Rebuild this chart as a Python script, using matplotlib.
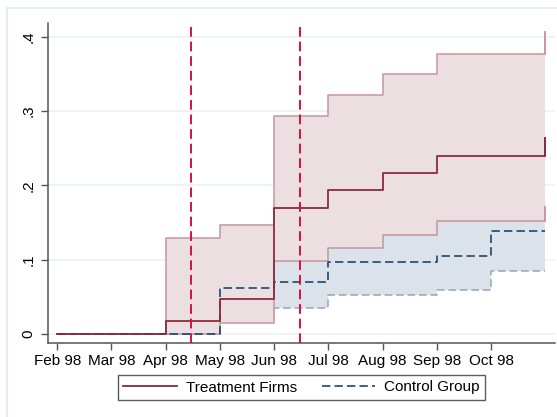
import numpy as np
import matplotlib
matplotlib.use("Agg")
import matplotlib.pyplot as plt
from matplotlib.patches import Rectangle
from matplotlib.lines import Line2D

plt.rcParams["font.family"] = ["Liberation Sans", "DejaVu Sans"]

# month index 0 = Feb 98 ... 9 = Nov 98 (step values hold until next month)
months = np.arange(10)
month_labels = ["Feb 98", "Mar 98", "Apr 98", "May 98", "Jun 98",
                "Jul 98", "Aug 98", "Sep 98", "Oct 98"]

treat = [0, 0, 0.0175, 0.047, 0.170, 0.194, 0.217, 0.240, 0.240, 0.264]
treat_hi = [0, 0, 0.129, 0.147, 0.294, 0.322, 0.350, 0.377, 0.377, 0.406]
treat_lo = [0, 0, 0, 0.015, 0.098, 0.116, 0.134, 0.152, 0.152, 0.171]

ctrl = [0, 0, 0, 0.062, 0.070, 0.097, 0.097, 0.105, 0.139, 0.139]
ctrl_hi = [0, 0, 0, 0.11, 0.12, 0.13, 0.15, 0.16, 0.17, 0.17]
ctrl_lo = [0, 0, 0, 0.02, 0.035, 0.053, 0.053, 0.059, 0.085, 0.085]

event_dates = [2.47, 4.48]

red = "#8c2a3b"
red_fill = "#ecdfe1"
red_edge = "#c8949b"
navy = "#1a476f"
blue_fill = "#dce2ea"
blue_edge = "#94a6ba"

fig = plt.figure(figsize=(5.57, 4.17), dpi=100)
fig.patch.set_facecolor("white")
fig.patches.append(Rectangle((7/557, -0.1), 1.2, (417-8)/417 + 0.1,
                             transform=fig.transFigure, fill=False,
                             edgecolor="#e3e9ec", linewidth=1.2))

ax = fig.add_axes([48/557, 74/417, 507/557, 320/417])
ax.set_facecolor("none")

for y in [0, 0.1, 0.2, 0.3, 0.4]:
    ax.axhline(y, color="#eaf0f2", linewidth=1.1, zorder=0)

# control band, then treatment band on top
ax.fill_between(months, ctrl_lo, ctrl_hi, step="post", color=blue_fill,
                linewidth=0, zorder=1)
ax.step(months, ctrl_lo, where="post", color=blue_edge, linewidth=1.1,
        dashes=(5, 2.5), zorder=2)
ax.fill_between(months, treat_lo, treat_hi, step="post", color=red_fill,
                linewidth=0, zorder=3)
ax.step(months, treat_lo, where="post", color=red_edge, linewidth=1.1, zorder=4)
ax.step(months, treat_hi, where="post", color=red_edge, linewidth=1.1, zorder=4)
ax.plot([months[-1], months[-1]], [treat_lo[-2], treat_lo[-1]], color=red_edge,
        linewidth=1.1, zorder=4)
ax.plot([months[-1], months[-1]], [treat_hi[-2], treat_hi[-1]], color=red_edge,
        linewidth=1.1, zorder=4)

ax.step(months, ctrl, where="post", color=navy, linewidth=1.2,
        dashes=(5, 2.5), zorder=5)
ax.step(months, treat, where="post", color=red, linewidth=1.3, zorder=6)
ax.plot([months[-1], months[-1]], [treat[-2], treat[-1]], color=red,
        linewidth=1.3, zorder=6)

for d in event_dates:
    ax.vlines(d, -0.012, 0.413, color="#d5103f", linewidth=1.4,
              linestyles=(0, (5, 2.5)), zorder=7)

ax.set_xlim(-0.17, 9.18)
ax.set_ylim(-0.012, 0.4186)
ax.set_xticks(months[:9])
ax.set_xticklabels(month_labels)
ax.set_yticks([0, 0.1, 0.2, 0.3, 0.4])
ax.set_yticklabels(["0", ".1", ".2", ".3", ".4"], rotation=90, va="center")

for s in ["top", "right"]:
    ax.spines[s].set_visible(False)
for s in ["left", "bottom"]:
    ax.spines[s].set_color("#555555")
    ax.spines[s].set_linewidth(1.1)
ax.tick_params(axis="both", colors="#555555", length=5, width=1,
               labelcolor="black", labelsize=11)
ax.tick_params(axis="x", pad=3)
ax.tick_params(axis="y", pad=4)

handles = [Line2D([], [], color=red, linewidth=1.3),
           Line2D([], [], color=navy, linewidth=1.2, dashes=(5, 2.5))]
leg = fig.legend(handles, ["Treatment Firms", "Control Group"], ncol=2,
                 loc="center", bbox_to_anchor=(301.5/557, (417-387.5)/417),
                 frameon=True, fancybox=False, edgecolor="#333333",
                 fontsize=11, handlelength=3.5, columnspacing=1.6,
                 borderpad=0.35, handletextpad=0.6, borderaxespad=0)
leg.get_frame().set_linewidth(1.0)

fig.savefig("out.png", dpi=100)
